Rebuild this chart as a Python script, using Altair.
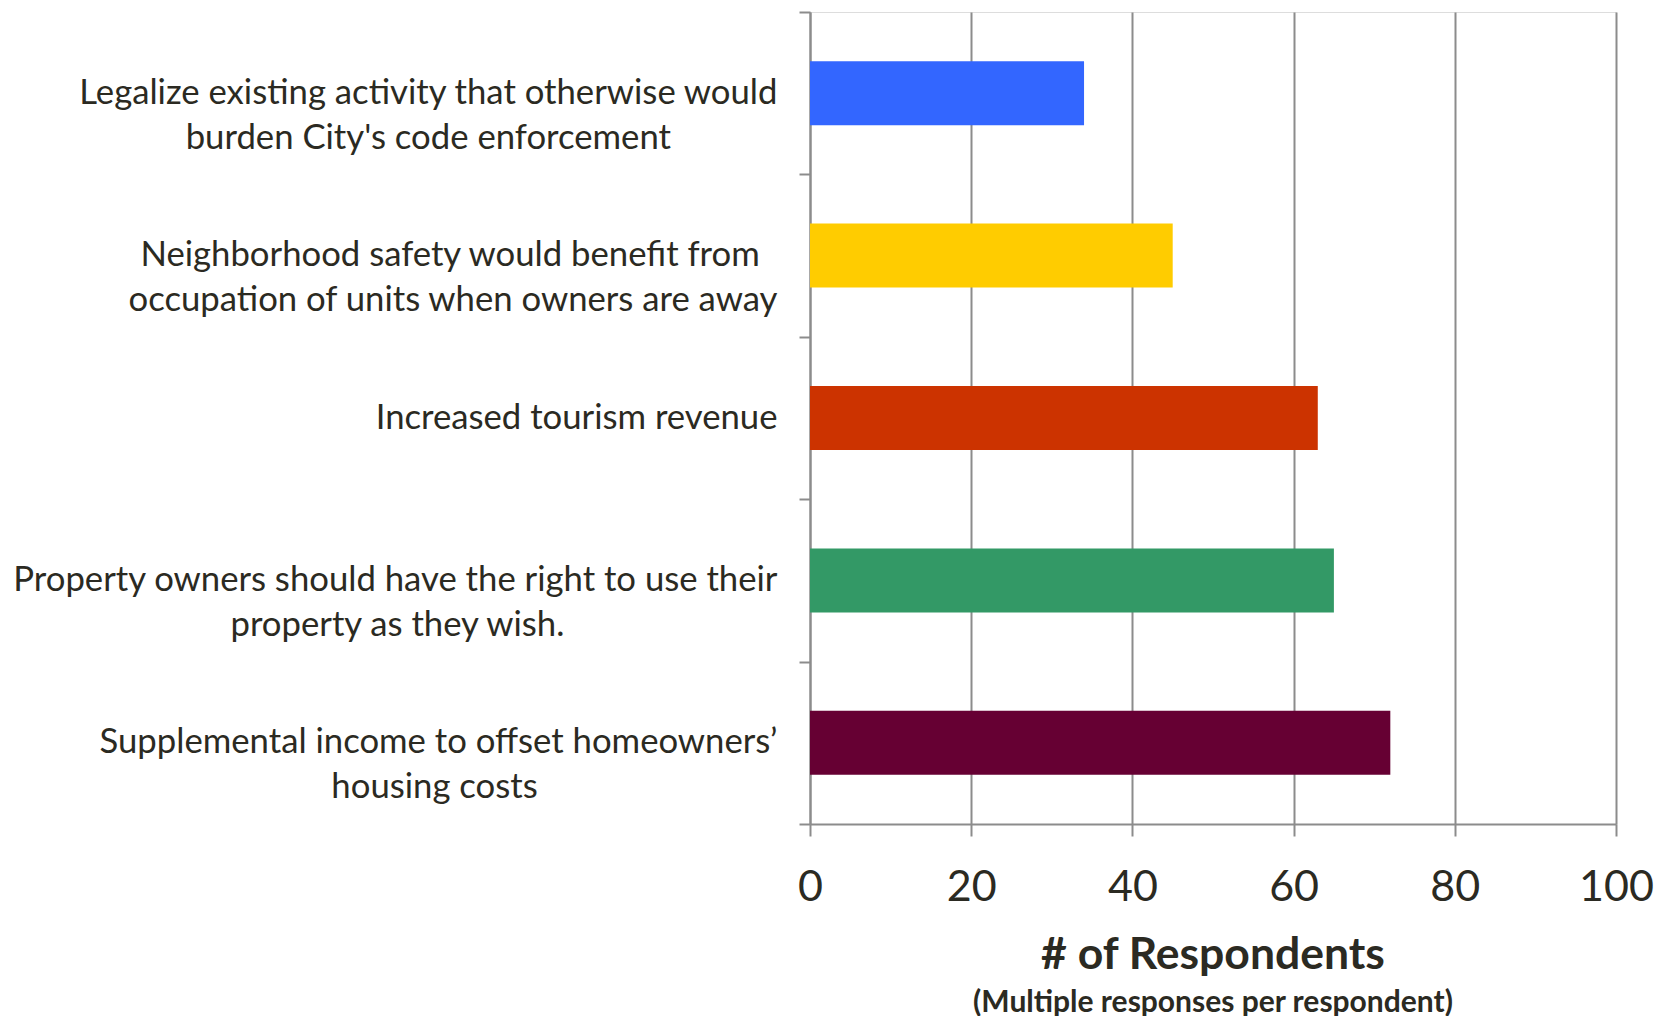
import altair as alt
import pandas as pd

categories = [
    "Legalize existing activity that otherwise would\nburden City's code enforcement",
    "Neighborhood safety would benefit from\noccupation of units when owners are away",
    "Increased tourism revenue",
    "Property owners should have the right to use their\nproperty as they wish.",
    "Supplemental income to offset homeowners\u2019\nhousing costs",
]
values = [34, 45, 63, 65, 72]
colors = ["#3366ff", "#ffcc00", "#cc3300", "#339966", "#660033"]
x_ticks = [0, 20, 40, 60, 80, 100]

TEXT = "#2b2a22"
GRID = "#8c8c8c"
FONT = "Lato"
NBSP = "\u00a0"
ZWSP = "\u200b"  # keeps the trailing no-break spaces from being trimmed

# The reference centres the lines of each label on one another while the
# block stays flush against the axis; pad the shorter line with no-break
# spaces (counts tuned for the label font) so right alignment looks centred.
line_pads = [(0, 12), (2, 0), (0,), (0, 24), (0, 27)]


def display_label(text, pads):
    lines = text.split("\n")
    return "\n".join(line + (NBSP * p + ZWSP if p else "") for line, p in zip(lines, pads))


shown = [display_label(c, p) for c, p in zip(categories, line_pads)]
df = pd.DataFrame({"reason": shown, "count": values})

bars = alt.Chart(df).mark_bar(height=alt.RelativeBandSize(0.394)).encode(
    y=alt.Y(
        "reason:N",
        sort=shown,
        title=None,
        scale=alt.Scale(paddingInner=0, paddingOuter=0),
        axis=alt.Axis(
            labelExpr="split(datum.label, '\\n')",
            labelFont=FONT,
            labelFontSize=34.7,
            labelColor=TEXT,
            labelLineHeight=45,
            labelPadding=22,
            labelLimit=1000,
            labelAlign="right",
            tickBand="extent",
            tickSize=11,
            tickColor=GRID,
            tickWidth=2,
            domainColor=GRID,
            domainWidth=2,
            grid=False,
        ),
    ),
    x=alt.X(
        "count:Q",
        title=None,
        scale=alt.Scale(domain=[0, 100], nice=False),
        axis=alt.Axis(
            values=x_ticks,
            labelFont=FONT,
            labelFontSize=43,
            labelColor=TEXT,
            labelPadding=30,
            labelFlush=False,
            tickSize=12,
            tickColor=GRID,
            tickWidth=2,
            domainColor=GRID,
            domainWidth=2,
            grid=True,
            gridColor=GRID,
            gridWidth=2,
        ),
    ),
    color=alt.Color("reason:N", sort=shown,
                    scale=alt.Scale(domain=shown, range=colors), legend=None),
).properties(
    width=806,
    height=812,
    title=alt.TitleParams(
        text="# of Respondents",
        subtitle="(Multiple responses per respondent)",
        orient="bottom",
        anchor="middle",
        frame="group",
        font=FONT,
        fontSize=44.5,
        fontWeight="bold",
        color=TEXT,
        subtitleFont=FONT,
        subtitleFontSize=30,
        subtitleFontWeight="bold",
        subtitleColor=TEXT,
        subtitlePadding=9,
        offset=25,
    ),
).configure_view(stroke=None).configure(background="white", padding={"left": 3, "top": -14, "right": 2, "bottom": 0})

chart = bars
chart.save("out.html", embed_options={"renderer": "svg", "actions": False})
